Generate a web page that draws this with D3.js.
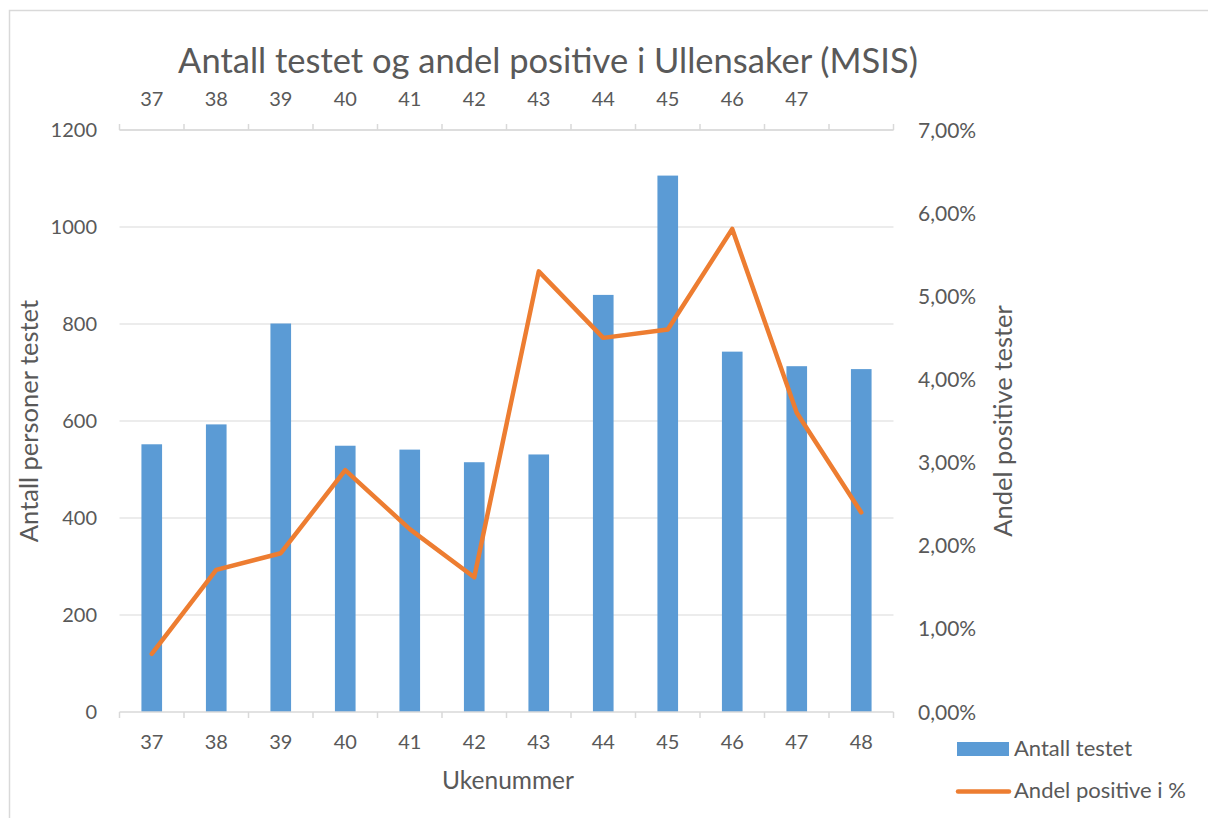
<!DOCTYPE html>
<html>
<head>
<meta charset="utf-8">
<style>
  body { margin: 0; background: #fff; }
  svg { display: block; font-family: Lato, "Open Sans", sans-serif; }
  .lbl { fill: #595959; }
</style>
</head>
<body>
<svg id="chart"></svg>
<script src="https://cdnjs.cloudflare.com/ajax/libs/d3/7.8.5/d3.min.js"></script>
<script>
// data
const weeks = ["37", "38", "39", "40", "41", "42", "43", "44", "45", "46", "47", "48"];
const tested = [552, 593, 801, 549, 541, 515, 531, 860, 1106, 743, 713, 707];
const positivePct = [0.7, 1.71, 1.91, 2.91, 2.2, 1.62, 5.3, 4.5, 4.6, 5.81, 3.6, 2.4];
const leftTicks = [0, 200, 400, 600, 800, 1000, 1200];
const rightTicks = [0, 1, 2, 3, 4, 5, 6, 7];
const topLabels = ["37", "38", "39", "40", "41", "42", "43", "44", "45", "46", "47"];

const W = 1208, H = 818;
const plot = { left: 119.5, right: 893.5, top: 130, bottom: 712 };
const grey = "#d9d9d9";

const svg = d3.select("#chart").attr("width", W).attr("height", H);

// outer chart border (runs off the right/bottom edges)
svg.append("rect")
    .attr("x", 9.5).attr("y", 10.5)
    .attr("width", W + 10).attr("height", H + 10)
    .attr("fill", "none").attr("stroke", grey).attr("stroke-width", 1.5);

const x = d3.scaleBand().domain(weeks).range([plot.left, plot.right]).paddingInner(0.68).paddingOuter(0.34);
const xc = d => x(d) + x.bandwidth() / 2;
const step = (plot.right - plot.left) / weeks.length;
const yL = d3.scaleLinear().domain([0, 1200]).range([plot.bottom, plot.top]);
const yR = d3.scaleLinear().domain([0, 7]).range([plot.bottom, plot.top]);

// gridlines
svg.append("g").selectAll("line").data(leftTicks.slice(1)).join("line")
    .attr("x1", plot.left).attr("x2", plot.right)
    .attr("y1", d => yL(d)).attr("y2", d => yL(d))
    .attr("stroke", grey).attr("stroke-width", 1.2);

// bars
svg.append("g").selectAll("rect").data(tested).join("rect")
    .attr("x", (d, i) => x(weeks[i]))
    .attr("width", x.bandwidth())
    .attr("y", d => yL(d))
    .attr("height", d => plot.bottom - yL(d))
    .attr("fill", "#5b9bd5");

// bottom axis
const boundaries = d3.range(weeks.length + 1).map(i => plot.left + i * step);
const bottomAxis = svg.append("g");
bottomAxis.append("line").attr("x1", plot.left).attr("x2", plot.right)
    .attr("y1", plot.bottom).attr("y2", plot.bottom).attr("stroke", grey).attr("stroke-width", 1.5);
bottomAxis.selectAll(".tk").data(boundaries).join("line").attr("class", "tk")
    .attr("x1", d => d).attr("x2", d => d)
    .attr("y1", plot.bottom).attr("y2", plot.bottom + 6).attr("stroke", grey).attr("stroke-width", 1.5);
bottomAxis.selectAll("text").data(weeks).join("text").attr("class", "lbl")
    .attr("x", d => xc(d)).attr("y", 749)
    .attr("text-anchor", "middle").attr("font-size", 20).text(d => d);

// top axis
const topAxis = svg.append("g");
topAxis.append("line").attr("x1", plot.left).attr("x2", plot.right)
    .attr("y1", plot.top).attr("y2", plot.top).attr("stroke", grey).attr("stroke-width", 1.5);
topAxis.selectAll(".tk").data(boundaries).join("line").attr("class", "tk")
    .attr("x1", d => d).attr("x2", d => d)
    .attr("y1", plot.top).attr("y2", plot.top - 6).attr("stroke", grey).attr("stroke-width", 1.5);
topAxis.selectAll("text").data(topLabels).join("text").attr("class", "lbl")
    .attr("x", d => xc(d)).attr("y", 106)
    .attr("text-anchor", "middle").attr("font-size", 20).text(d => d);

// left axis labels
svg.append("g").selectAll("text").data(leftTicks).join("text").attr("class", "lbl")
    .attr("x", 97).attr("y", d => yL(d)).attr("dy", "0.36em")
    .attr("text-anchor", "end").attr("font-size", 20).text(d => d);

// right axis labels
const pct = d => d3.format(".2f")(d).replace(".", ",") + "%";
svg.append("g").selectAll("text").data(rightTicks).join("text").attr("class", "lbl")
    .attr("x", 918).attr("y", d => yR(d)).attr("dy", "0.36em")
    .attr("text-anchor", "start").attr("font-size", 21).text(pct);

// line
const line = d3.line().x((d, i) => xc(weeks[i])).y(d => yR(d));
svg.append("path").datum(positivePct)
    .attr("d", line).attr("fill", "none")
    .attr("stroke", "#ed7d31").attr("stroke-width", 4.5)
    .attr("stroke-linejoin", "round").attr("stroke-linecap", "round");

// titles
svg.append("text").attr("class", "lbl")
    .attr("x", 548).attr("y", 73).attr("text-anchor", "middle").attr("font-size", 34.5)
    .text("Antall testet og andel positive i Ullensaker (MSIS)");
svg.append("text").attr("class", "lbl")
    .attr("transform", "translate(38,421) rotate(-90)")
    .attr("text-anchor", "middle").attr("font-size", 25.5).text("Antall personer testet");
svg.append("text").attr("class", "lbl")
    .attr("transform", "translate(1012,421) rotate(-90)")
    .attr("text-anchor", "middle").attr("font-size", 25.5).text("Andel positive tester");
svg.append("text").attr("class", "lbl")
    .attr("x", 508).attr("y", 789).attr("text-anchor", "middle").attr("font-size", 24.5).text("Ukenummer");

// legend
const legend = svg.append("g");
legend.append("rect").attr("x", 957).attr("y", 742).attr("width", 52).attr("height", 14).attr("fill", "#5b9bd5");
legend.append("text").attr("class", "lbl").attr("x", 1014).attr("y", 756).attr("font-size", 22).text("Antall testet");
legend.append("line").attr("x1", 958).attr("x2", 1009).attr("y1", 791.5).attr("y2", 791.5)
    .attr("stroke", "#ed7d31").attr("stroke-width", 4.5).attr("stroke-linecap", "round");
legend.append("text").attr("class", "lbl").attr("x", 1014).attr("y", 798).attr("font-size", 22).text("Andel positive i %");
</script>
</body>
</html>
